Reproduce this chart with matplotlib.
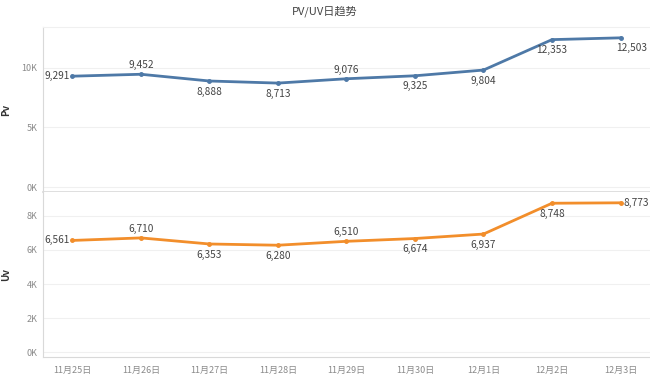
import matplotlib.pyplot as plt
from matplotlib.ticker import FuncFormatter

plt.rcParams['font.family'] = ['Noto Sans CJK SC', 'DejaVu Sans']

dates = ['11月25日', '11月26日', '11月27日', '11月28日', '11月29日',
         '11月30日', '12月1日', '12月2日', '12月3日']
pv = [9291, 9452, 8888, 8713, 9076, 9325, 9804, 12353, 12503]
uv = [6561, 6710, 6353, 6280, 6510, 6674, 6937, 8748, 8773]

# where each data label sits relative to its point
pv_pos = ['left', 'above', 'below', 'below', 'above', 'below', 'below', 'below', 'below']
uv_pos = ['left', 'above', 'below', 'below', 'above', 'below', 'below', 'below', 'right']

blue = '#4e79a7'
orange = '#f28e2b'
grid_c = '#f0f0f0'
spine_c = '#d9d9d9'
tick_c = '#8a8a8a'

fig = plt.figure(figsize=(6.5, 3.82), dpi=100)
ax1 = fig.add_axes([0.066, 0.497, 0.934, 0.432])
ax2 = fig.add_axes([0.066, 0.065, 0.934, 0.432], sharex=ax1)

kfmt = FuncFormatter(lambda v, p: '%dK' % round(v / 1000))


def label_points(ax, vals, pos):
    for i, (v, p) in enumerate(zip(vals, pos)):
        txt = '{:,}'.format(v)
        if p == 'left':
            ax.annotate(txt, (i, v), xytext=(-2, 0), textcoords='offset points',
                        ha='right', va='center', fontsize=7.3, color='#444444')
        elif p == 'right':
            ax.annotate(txt, (i, v), xytext=(2, 0), textcoords='offset points',
                        ha='left', va='center', fontsize=7.3, color='#444444')
        elif p == 'above':
            ax.annotate(txt, (i, v), xytext=(0, 3), textcoords='offset points',
                        ha='center', va='bottom', fontsize=7.3, color='#444444')
        else:
            dx = 8 if i == len(vals) - 1 else 0
            ax.annotate(txt, (i, v), xytext=(dx, -4), textcoords='offset points',
                        ha='center', va='top', fontsize=7.3, color='#444444')


x = list(range(len(dates)))
ax1.plot(x, pv, color=blue, linewidth=2, marker='o', markersize=2.5)
ax2.plot(x, uv, color=orange, linewidth=2, marker='o', markersize=2.5)
label_points(ax1, pv, pv_pos)
label_points(ax2, uv, uv_pos)

ax1.set_ylim(-420, 13400)
ax1.set_yticks([0, 5000, 10000])
ax2.set_ylim(-300, 9400)
ax2.set_yticks([0, 2000, 4000, 6000, 8000])
ax1.set_xlim(-0.43, 8.43)
ax2.set_xticks(x)
ax2.set_xticklabels(dates)

for ax, name in [(ax1, 'Pv'), (ax2, 'Uv')]:
    ax.yaxis.set_major_formatter(kfmt)
    ax.grid(axis='y', color=grid_c, linewidth=0.8)
    ax.set_axisbelow(True)
    ax.spines['right'].set_visible(False)
    ax.spines['top'].set_color(grid_c)
    ax.spines['left'].set_color(spine_c)
    ax.spines['bottom'].set_color(spine_c)
    ax.tick_params(axis='y', length=0, labelsize=6.5, colors=tick_c, pad=4)
    ax.set_ylabel(name, fontsize=7, color='#333333', fontweight='bold')
    ax.yaxis.set_label_coords(-0.052, 0.5)

ax1.tick_params(axis='x', bottom=False, labelbottom=False)
ax2.tick_params(axis='x', length=0, labelsize=6.5, colors=tick_c, pad=6)
ax2.spines['top'].set_visible(False)
ax1.spines['bottom'].set_linewidth(1.2)

fig.suptitle('PV/UV日趋势', x=0.5, y=0.985, fontsize=8, color='#444444')

fig.savefig('out.png', dpi=100)
